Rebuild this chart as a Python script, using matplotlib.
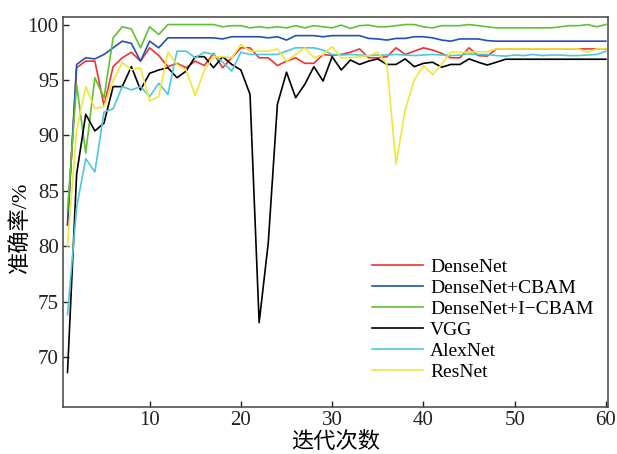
import matplotlib
matplotlib.use("Agg")
import matplotlib.pyplot as plt

plt.rcParams["font.family"] = ["Liberation Serif", "Noto Sans CJK SC"]

epochs = list(range(1, 61))

densenet = [82.0, 96.1, 96.7, 96.7, 92.7, 96.2, 97.0, 97.5, 96.7, 97.9,
            97.2, 96.2, 96.5, 96.1, 96.7, 96.3, 97.4, 96.1, 97.0, 97.9,
            97.9, 97.0, 97.0, 96.3, 96.7, 97.0, 96.5, 96.5, 97.3, 97.2,
            97.3, 97.5, 97.8, 97.0, 97.0, 97.1, 97.9, 97.3, 97.6, 97.9,
            97.7, 97.4, 97.0, 97.0, 97.9, 97.2, 97.15, 97.8, 97.8, 97.8,
            97.8, 97.8, 97.8, 97.8, 97.8, 97.8, 97.8, 97.8, 97.8, 97.8]

densenet_cbam = [81.9, 96.4, 97.0, 96.9, 97.3, 97.9, 98.5, 98.3, 96.7, 98.5,
                 97.9, 98.8, 98.8, 98.8, 98.8, 98.8, 98.8, 98.7, 98.9, 98.9,
                 98.9, 98.9, 98.8, 98.9, 98.6, 99.0, 99.0, 99.0, 98.9, 99.0,
                 99.0, 99.0, 99.0, 98.75, 98.7, 98.6, 98.75, 98.75, 98.9, 98.9,
                 98.8, 98.6, 98.5, 98.7, 98.7, 98.7, 98.55, 98.5, 98.5, 98.5,
                 98.5, 98.5, 98.5, 98.5, 98.5, 98.5, 98.5, 98.5, 98.5, 98.5]

densenet_icbam = [83.2, 94.6, 88.4, 95.2, 93.4, 98.8, 99.8, 99.6, 97.9, 99.8,
                  99.1, 100.0, 100.0, 100.0, 100.0, 100.0, 100.0, 99.8, 99.9, 99.9,
                  99.7, 99.8, 99.7, 99.8, 99.7, 99.9, 99.7, 99.9, 99.8, 99.7,
                  99.95, 99.65, 99.9, 99.95, 99.8, 99.8, 99.9, 100.0, 100.0, 99.8,
                  99.7, 99.9, 99.9, 99.9, 100.0, 99.9, 99.8, 99.7, 99.7, 99.7,
                  99.7, 99.7, 99.7, 99.7, 99.8, 99.9, 99.9, 100.0, 99.8, 100.0]

vgg = [68.6, 86.5, 91.9, 90.4, 91.1, 94.4, 94.4, 96.2, 94.1, 95.6,
       95.9, 96.1, 95.2, 95.8, 97.1, 97.1, 96.1, 97.1, 96.4, 95.9,
       93.7, 73.1, 80.3, 92.8, 95.7, 93.4, 94.6, 96.2, 94.9, 97.1,
       95.9, 96.8, 96.4, 96.7, 96.9, 96.4, 96.4, 96.9, 96.2, 96.5,
       96.6, 96.15, 96.4, 96.4, 96.9, 96.6, 96.35, 96.6, 96.87, 96.87,
       96.87, 96.87, 96.87, 96.87, 96.87, 96.87, 96.87, 96.87, 96.87, 96.87]

alexnet = [73.8, 83.5, 87.9, 86.7, 92.1, 92.4, 94.4, 94.1, 94.4, 93.5,
           94.7, 93.7, 97.6, 97.6, 97.0, 97.5, 97.3, 96.6, 95.8, 97.5,
           97.3, 97.3, 97.3, 97.3, 97.6, 97.9, 97.9, 97.9, 97.7, 97.3,
           97.25, 97.3, 97.25, 97.2, 97.25, 97.25, 97.3, 97.25, 97.2, 97.25,
           97.3, 97.25, 97.2, 97.25, 97.35, 97.3, 97.3, 97.2, 97.15, 97.25,
           97.2, 97.3, 97.2, 97.25, 97.25, 97.2, 97.2, 97.25, 97.3, 97.6]

resnet = [80.0, 90.5, 94.4, 92.4, 92.6, 94.9, 96.6, 95.9, 96.1, 93.1,
          93.5, 97.5, 96.4, 95.9, 93.6, 95.9, 97.1, 97.1, 97.0, 98.2,
          97.6, 97.6, 97.6, 97.8, 96.7, 97.3, 97.9, 97.0, 97.3, 98.0,
          97.0, 97.0, 97.1, 97.2, 97.5, 96.4, 87.4, 92.3, 95.0, 96.3,
          95.5, 96.4, 97.5, 97.5, 97.5, 97.55, 97.55, 97.8, 97.8, 97.8,
          97.8, 97.8, 97.8, 97.8, 97.8, 97.8, 97.8, 97.5, 97.8, 97.8]

series = [
    ("DenseNet", densenet, "#f03232"),
    ("DenseNet+CBAM", densenet_cbam, "#2450b4"),
    ("DenseNet+I\u2212CBAM", densenet_icbam, "#5fc232"),
    ("VGG", vgg, "#000000"),
    ("AlexNet", alexnet, "#4ec8d8"),
    ("ResNet", resnet, "#f0e63c"),
]

fig = plt.figure(figsize=(6.17, 4.54), dpi=100)
ax = fig.add_axes([0.102, 0.104, 0.883, 0.859])

for name, values, color in series:
    ax.plot(epochs, values, color=color, linewidth=1.2, label=name)

ax.set_xlim(0.5, 60.2)
ax.set_ylim(65.5, 100.7)
ax.set_xticks([10, 20, 30, 40, 50, 60])
ax.set_yticks([70, 75, 80, 85, 90, 95, 100])
ax.tick_params(direction="in", length=4, width=1, labelsize=15, colors="#222222", pad=3)
for spine in ax.spines.values():
    spine.set_color("#444444")
    spine.set_linewidth(1.1)

ax.set_xlabel("迭代次数", fontsize=16)
ax.set_ylabel("准确率/%", fontsize=16)
ax.xaxis.set_label_coords(0.5, -0.066)
ax.yaxis.set_label_coords(-0.057, 0.46)

ax.legend(loc="upper left", bbox_to_anchor=(0.568, 0.38), frameon=False,
          fontsize=14, handlelength=2.6, handletextpad=0.36,
          labelspacing=0.17, borderpad=0, borderaxespad=0)

fig.savefig("out.png", dpi=100)
